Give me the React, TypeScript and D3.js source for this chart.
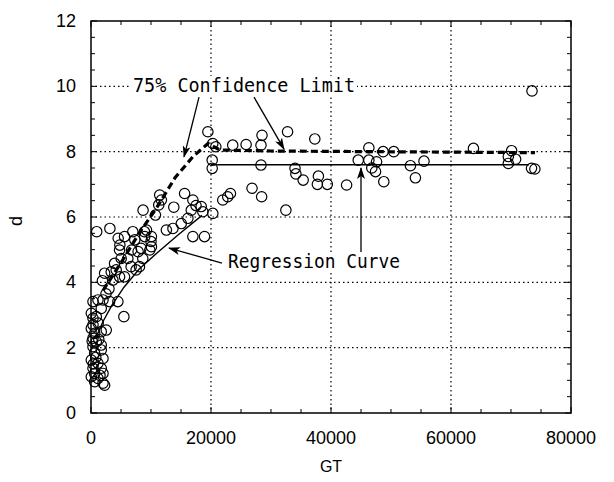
import React from 'react';
import * as d3 from 'd3';

// scatter points: GT and d
const gtValues = [
  330, 1160, 2000, 3100, 4480, 5480, 1710, 50, 330, 880, 50, 610, 1710, 330, 880, 330, 1710, 1710, 610, 2000,
  50, 1160, 330, 1710, 610, 2000, 50, 1160, 2000, 610, 2270, 2540, 330, 1200, 800, 400, 1500, 200, 1300,
  2270, 3650, 1900, 4760, 5590, 3370, 4200, 3930, 5030, 6140, 6690, 7520, 8080, 8630, 4760, 6760, 7850, 8350,
  9800, 10070, 4810, 4530, 5590, 7300, 6970, 8910, 8960, 9250, 10070, 10000, 950, 3150, 8680, 10740, 11290,
  11730, 11450, 3000, 2500,
  12560, 13660, 15050, 16150, 16980, 18920, 15600, 16980, 16710, 18640, 18370, 20300, 13800, 17500,
  21960, 22790, 23240, 26840, 28440, 32480,
  19480, 20300, 20800, 23620, 25850, 28330, 28500, 32760, 37300,
  20200, 20200, 28330,
  34000, 34150, 35360, 37900, 37730, 39390, 42600,
  44540, 46310, 46310, 47590, 47420, 46800, 48800, 48690, 50460, 53240, 54070, 55500, 63740,
  70100, 69550, 70770, 69550, 73420, 73980, 73500,
];
const dValues = [
  3.41, 3.46, 3.46, 3.41, 3.41, 2.95, 3.2, 3.05, 2.9, 2.95, 2.59, 2.44, 2.49, 2.29, 2.18, 2.03, 2.08, 1.93, 1.83, 1.67,
  1.62, 1.52, 1.37, 1.37, 1.21, 1.21, 1.11, 1.06, 0.91, 0.96, 0.85, 2.54, 2.7, 2.75, 1.7, 1.5, 1.15, 2.2, 2.25,
  4.28, 4.07, 4.05, 4.17, 4.17, 4.32, 4.38, 4.58, 4.73, 4.73, 4.48, 4.38, 4.48, 4.73, 4.99, 4.99, 4.94, 5.04,
  4.99, 5.09, 5.14, 5.35, 5.4, 5.3, 5.55, 5.55, 5.4, 5.6, 5.4, 5.25, 5.55, 5.65, 6.21, 6.06, 6.37,
  6.52, 6.67, 3.8, 3.65,
  5.6, 5.65, 5.8, 5.96, 5.4, 5.4, 6.72, 6.52, 6.21, 6.16, 6.32, 6.11, 6.3, 6.35,
  6.52, 6.62, 6.72, 6.88, 6.62, 6.21,
  8.61, 8.25, 8.15, 8.2, 8.22, 8.2, 8.5, 8.61, 8.39,
  7.74, 7.49, 7.59,
  7.49, 7.32, 7.13, 7.25, 7.0, 7.0, 6.98,
  7.74, 8.12, 7.74, 7.69, 7.39, 7.5, 7.08, 8.0, 8.0, 7.57, 7.2, 7.71, 8.1,
  8.03, 7.85, 7.77, 7.64, 7.49, 7.47, 9.86,
];

// regression curve (rising part, then flat part)
const regGT = [800, 2000, 3500, 5500, 8000, 11000, 14500, 18500];
const regD = [2.3, 2.8, 3.3, 3.85, 4.4, 4.9, 5.45, 6.05];
const flatGT = [20000, 73000];
const flatD = [7.6, 7.6];

// 75% confidence limit
const confGT = [2000, 5000, 8000, 11000, 14000, 17000, 19500, 21500, 30000, 74000];
const confD = [3.75, 4.6, 5.5, 6.3, 7.2, 7.85, 8.25, 8.05, 8.02, 7.97];

const xTicks = [0, 20000, 40000, 60000, 80000];
const yTicks = [0, 2, 4, 6, 8, 10, 12];

// annotation arrows, tail -> tip, in data units
const arrowTail = [[18000, 9.67], [27170, 9.67], [21830, 4.59], [45000, 4.93]];
const arrowTip = [[15500, 7.84], [32170, 8.08], [13000, 5.05], [45000, 7.5]];

const W = 614;
const H = 482;
const left = 91, right = 571, top = 21, bottom = 413;

const x = d3.scaleLinear().domain([0, 80000]).range([left, right]);
const y = d3.scaleLinear().domain([0, 12]).range([bottom, top]);

const line = d3.line<number[]>().x(d => x(d[0])).y(d => y(d[1]));

const labelFont = '"Liberation Sans", Arial, sans-serif';
const monoFont = '"DejaVu Sans Mono", "Liberation Mono", monospace';

export default function App() {
  const minorX = d3.range(0, 80001, 5000);
  const minorY = d3.range(0, 12.01, 0.5);
  const gridX = xTicks.slice(1, -1);
  const gridY = yTicks.slice(1, -1);

  const regPts = regGT.map((g, i) => [g, regD[i]]);
  const flatPts = flatGT.map((g, i) => [g, flatD[i]]);
  const confPts = confGT.map((g, i) => [g, confD[i]]);

  return (
    <svg width={W} height={H} style={{ position: 'absolute', left: 0, top: 0, background: '#fff' }}>
      <defs>
        <marker id="head" viewBox="0 0 12 8" refX="11" refY="4" markerWidth="12" markerHeight="8"
          markerUnits="userSpaceOnUse" orient="auto">
          <path d="M0,0 L12,4 L0,8 L3,4 z" fill="#000" />
        </marker>
      </defs>

      {/* grid */}
      <g stroke="#000" strokeWidth={1.2} strokeDasharray="1.5,3">
        {gridX.map(t => <line key={'gx' + t} x1={x(t)} x2={x(t)} y1={top} y2={bottom} />)}
        {gridY.map(t => <line key={'gy' + t} x1={left} x2={right} y1={y(t)} y2={y(t)} />)}
      </g>

      {/* text boxes hide the grid behind them */}
      <rect x={x(7000) - 2} y={y(9.83) - 16} width={226} height={20} fill="#fff" />
      <rect x={x(22830) - 2} y={y(4.44) - 16} width={176} height={20} fill="#fff" />

      {/* frame and ticks */}
      <rect x={left} y={top} width={right - left} height={bottom - top} fill="none" stroke="#000" strokeWidth={1.5} />
      <g stroke="#000" strokeWidth={1}>
        {minorX.map(t => (
          <g key={'tx' + t}>
            <line x1={x(t)} x2={x(t)} y1={bottom} y2={bottom - (t % 20000 === 0 ? 6 : 4)} />
            <line x1={x(t)} x2={x(t)} y1={top} y2={top + (t % 20000 === 0 ? 6 : 4)} />
          </g>
        ))}
        {minorY.map(t => (
          <g key={'ty' + t}>
            <line x1={left} x2={left + (t % 2 === 0 ? 6 : 4)} y1={y(t)} y2={y(t)} />
            <line x1={right} x2={right - (t % 2 === 0 ? 6 : 4)} y1={y(t)} y2={y(t)} />
          </g>
        ))}
      </g>

      {/* tick labels */}
      <g fontFamily={labelFont} fontSize={18} fill="#000">
        {xTicks.map(t => (
          <text key={'lx' + t} x={x(t)} y={bottom + 31} textAnchor="middle">{t}</text>
        ))}
        {yTicks.map(t => (
          <text key={'ly' + t} x={left - 15} y={y(t) + 6} textAnchor="end">{t}</text>
        ))}
        <text x={(left + right) / 2} y={472} textAnchor="middle" fontSize={16}>GT</text>
        <text transform={`translate(22,${(top + bottom) / 2 + 4}) rotate(-90)`} textAnchor="middle" fontSize={18}>d</text>
      </g>

      {/* points */}
      <g fill="none" stroke="#000" strokeWidth={1.2}>
        {gtValues.map((g, i) => (
          <circle key={'p' + i} cx={x(g)} cy={y(dValues[i])} r={5.2} />
        ))}
      </g>

      {/* curves */}
      <path d={line(regPts) || ''} fill="none" stroke="#000" strokeWidth={1.4} />
      <path d={line(flatPts) || ''} fill="none" stroke="#000" strokeWidth={1.4} />
      <path d={line(confPts) || ''} fill="none" stroke="#000" strokeWidth={3.2} strokeDasharray="7,4" />

      {/* annotations */}
      <g stroke="#000" strokeWidth={1.3}>
        {arrowTail.map((a, i) => (
          <line key={'a' + i} x1={x(a[0])} y1={y(a[1])} x2={x(arrowTip[i][0])} y2={y(arrowTip[i][1])}
            markerEnd="url(#head)" />
        ))}
      </g>
      <g fontFamily={monoFont} fontSize={19} fill="#000">
        <text x={x(7000)} y={y(9.83)} textLength={222} lengthAdjust="spacingAndGlyphs">75% Confidence Limit</text>
        <text x={x(22830)} y={y(4.44)} textLength={172} lengthAdjust="spacingAndGlyphs">Regression Curve</text>
      </g>
    </svg>
  );
}
